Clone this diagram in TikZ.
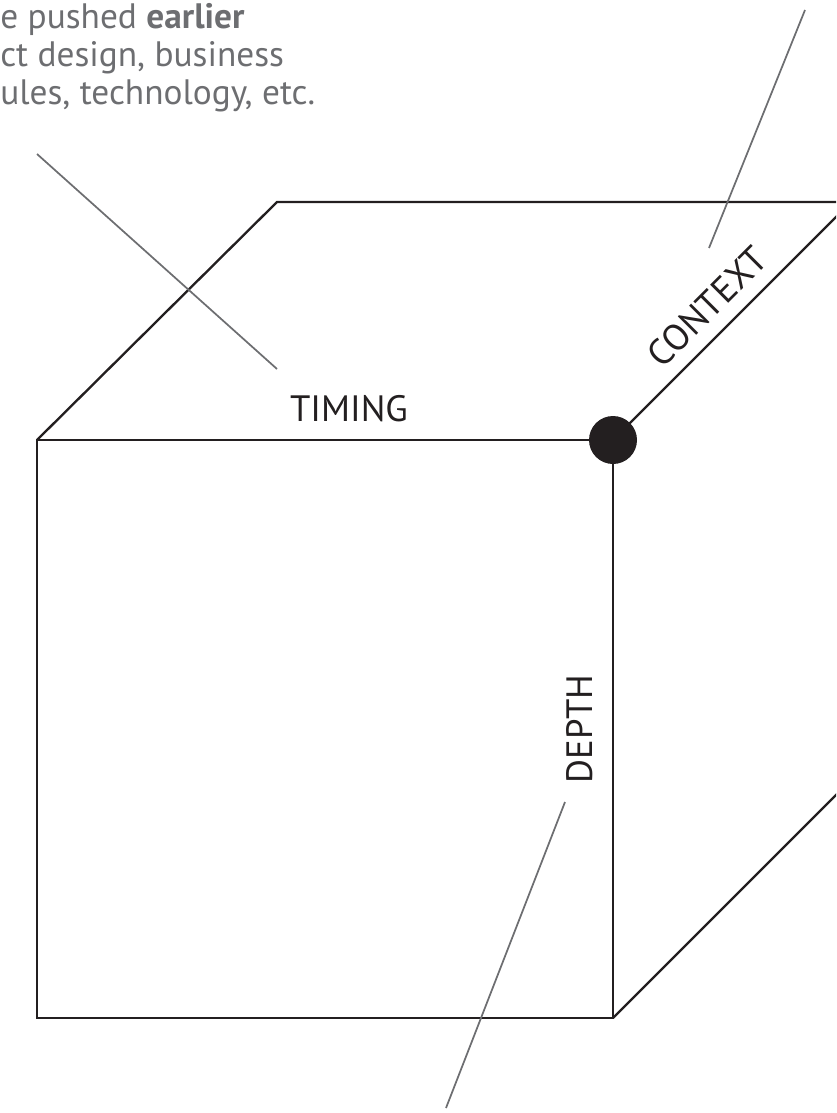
\documentclass[tikz,border=0pt]{standalone}
\usepackage{fontspec}
\setmainfont{PT Sans}
\definecolor{ink}{HTML}{231F20}
\definecolor{note}{HTML}{6D6E71}
\begin{document}
\begin{tikzpicture}[x=0.75pt,y=-0.75pt,
  cubeedge/.style={draw=ink,line width=1.75pt,line join=miter},
  leader/.style={draw=note,line width=1.3pt},
  axislabel/.style={text=ink,inner sep=0pt,font=\fontsize{27.5}{30}\selectfont},
  notetext/.style={text=note,inner sep=0pt,anchor=base west,font=\fontsize{26.5}{30}\selectfont}]
\useasboundingbox (0,0) rectangle (836,1113);
\clip (0,0) rectangle (836,1113);
% cube corners
\coordinate (FTL) at (37,440);
\coordinate (FTR) at (613,440);
\coordinate (FBL) at (37,1018);
\coordinate (FBR) at (613,1018);
\coordinate (BTL) at (277,202);
\coordinate (BTR) at (851,202);
\coordinate (BBR) at (851,780);
% cube
\draw[cubeedge] (FTL) -- (FTR) -- (FBR) -- (FBL) -- cycle;
\draw[cubeedge] (FTL) -- (BTL) -- (BTR) -- (FTR);
\draw[cubeedge] (FBR) -- (BBR);
\node[circle,fill=ink,inner sep=0pt,minimum size=36pt] (dot) at (FTR) {};
% labels
\node[axislabel,anchor=base] (timing) at (349,421) {TIMING};
\node[axislabel,anchor=base,rotate=45] (context) at (716,316) {CONTEXT};
\node[axislabel,anchor=base,rotate=90] (depth) at (592,729) {DEPTH};
% note text (cut at the left edge)
\node[notetext] (noteA) at (0,29) {e pushed \textbf{earlier}};
\node[notetext] (noteB) at (0,66) {ct design, business};
\node[notetext] (noteC) at (0,104) {ules, technology, etc.};
% leader lines
\coordinate (tA) at (37,154);
\coordinate (tB) at (277,369);
\coordinate (cA) at (805,10);
\coordinate (cB) at (709,248);
\coordinate (dA) at (565,802);
\coordinate (dB) at (446,1108);
\draw[leader] (tA) -- (tB);
\draw[leader] (cA) -- (cB);
\draw[leader] (dA) -- (dB);
\end{tikzpicture}
\end{document}
